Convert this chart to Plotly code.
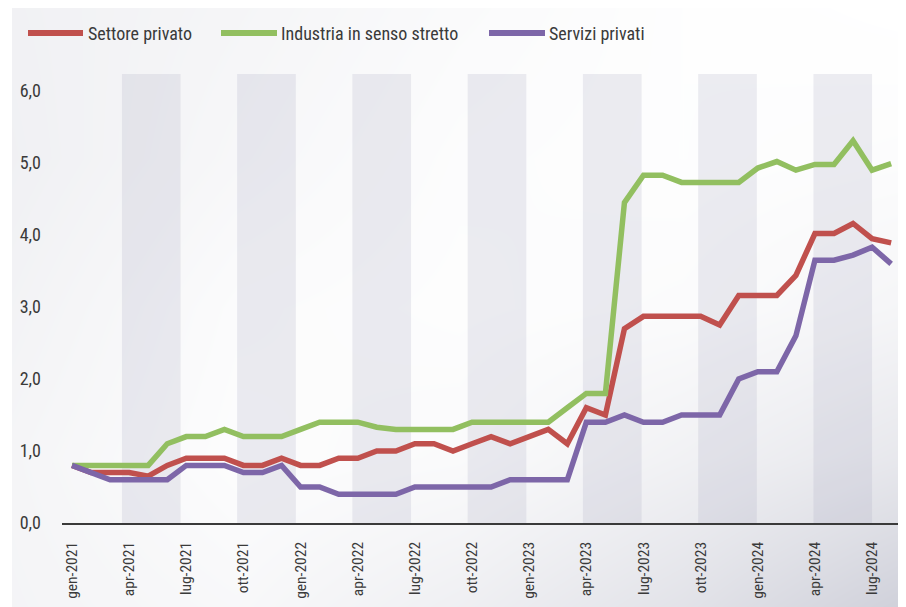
import plotly.graph_objects as go

# ---------------- data ----------------
mesi = ["gen", "feb", "mar", "apr", "mag", "giu", "lug", "ago", "set", "ott", "nov", "dic"]
categorie = [f"{m}-{a}" for a in (2021, 2022, 2023, 2024) for m in mesi][:44]

serie_nomi = ["Settore privato", "Industria in senso stretto", "Servizi privati"]
serie_colori = ["#c0504d", "#92bf60", "#7d66a8"]

settore_privato = [0.8, 0.7, 0.7, 0.7, 0.65, 0.8, 0.9, 0.9, 0.9, 0.8, 0.8, 0.9,
                   0.8, 0.8, 0.9, 0.9, 1.0, 1.0, 1.1, 1.1, 1.0, 1.1, 1.2, 1.1,
                   1.2, 1.3, 1.1, 1.6, 1.5, 2.7, 2.87, 2.87, 2.87, 2.87, 2.75, 3.16,
                   3.16, 3.16, 3.44, 4.02, 4.02, 4.16, 3.95, 3.89]
industria = [0.8, 0.8, 0.8, 0.8, 0.8, 1.1, 1.2, 1.2, 1.3, 1.2, 1.2, 1.2,
             1.3, 1.4, 1.4, 1.4, 1.33, 1.3, 1.3, 1.3, 1.3, 1.4, 1.4, 1.4,
             1.4, 1.4, 1.6, 1.8, 1.8, 4.45, 4.83, 4.83, 4.73, 4.73, 4.73, 4.73,
             4.93, 5.02, 4.90, 4.98, 4.98, 5.31, 4.90, 4.99]
servizi = [0.8, 0.7, 0.6, 0.6, 0.6, 0.6, 0.8, 0.8, 0.8, 0.7, 0.7, 0.8,
           0.5, 0.5, 0.4, 0.4, 0.4, 0.4, 0.5, 0.5, 0.5, 0.5, 0.5, 0.6,
           0.6, 0.6, 0.6, 1.4, 1.4, 1.5, 1.4, 1.4, 1.5, 1.5, 1.5, 2.0,
           2.1, 2.1, 2.6, 3.65, 3.65, 3.72, 3.83, 3.6]
serie_valori = [settore_privato, industria, servizi]

y_tick_vals = [0, 1, 2, 3, 4, 5, 6]
y_tick_text = ["0,0", "1,0", "2,0", "3,0", "4,0", "5,0", "6,0"]
x_tick_idx = list(range(0, 44, 3))

# ---------------- figure ----------------
# the page body keeps its default 8px margin, so the figure is 8px smaller
W, H = 898, 599
FONT = "Liberation Sans Narrow, Roboto Condensed, Roboto, sans-serif"
x_idx = list(range(len(categorie)))
Y_TOP = 6.236
X_RANGE = [-0.525, 43.465]

fig = go.Figure()

# background diagonal gradient (decorative)
grad = [
    [0.22, 0.14, 0.32, 0.58, 0.95],   # bottom
    [0.20, 0.05, 0.10, 0.28, 0.48],
    [0.25, 0.08, 0.04, 0.08, 0.20],
    [0.30, 0.16, 0.06, 0.03, 0.06],
    [0.28, 0.20, 0.10, 0.03, 0.00],   # top
]
gpos = [0, 0.25, 0.5, 0.75, 1]
fig.add_trace(go.Heatmap(z=grad, x=gpos, y=gpos, zsmooth="best",
                         colorscale=[[0, "#ffffff"], [1, "#cdced8"]],
                         zmin=0, zmax=1, showscale=False, hoverinfo="skip",
                         xaxis="x", yaxis="y"))

for nome, col, vals in zip(serie_nomi, serie_colori, serie_valori):
    fig.add_trace(go.Scatter(x=x_idx, y=vals, mode="lines", name=nome,
                             line=dict(color=col, width=5.5),
                             xaxis="x2", yaxis="y2", showlegend=False))

# vertical stripes
shapes = []
for k in range(7):
    x0 = 2.62 + 6.05 * k
    shapes.append(dict(type="rect", xref="x2", yref="y2", layer="below",
                       x0=x0, x1=x0 + 3.08, y0=0, y1=Y_TOP,
                       fillcolor="rgba(165,165,190,0.20)", line=dict(width=0)))

# custom legend
annotations = []
leg_x = [(20, 75, 78), (213, 269, 271), (481, 537, 539)]
leg_y = 1 - 25 / H
for (a, b, t), nome, col in zip(leg_x, serie_nomi, serie_colori):
    shapes.append(dict(type="line", xref="paper", yref="paper", layer="above",
                       x0=a / W, x1=b / W, y0=leg_y, y1=leg_y,
                       line=dict(color=col, width=6)))
    annotations.append(dict(xref="paper", yref="paper", x=t / W, y=leg_y,
                            xanchor="left", yanchor="middle", showarrow=False,
                            text=nome, font=dict(size=18, color="#3a3a3a", family=FONT)))

fig.update_layout(
    width=W, height=H,
    margin=dict(l=0, r=0, t=0, b=0, autoexpand=False),
    paper_bgcolor="#ffffff",
    plot_bgcolor="rgba(0,0,0,0)",
    showlegend=False,
    shapes=shapes,
    annotations=annotations,
    xaxis=dict(domain=[4 / W, 1], range=[0, 1], visible=False, fixedrange=True,
               automargin=False),
    yaxis=dict(domain=[0, 1], range=[0, 1], visible=False, fixedrange=True,
               automargin=False),
    xaxis2=dict(domain=[54 / W, 892 / W], range=X_RANGE, anchor="y2",
                automargin=False,
                tickmode="array", tickvals=x_tick_idx,
                ticktext=[categorie[i] for i in x_tick_idx],
                tickangle=-90, showgrid=False, zeroline=False,
                showline=True, linecolor="#3a3a3a", linewidth=1.5,
                ticks="", ticklabelstandoff=11,
                tickfont=dict(size=15.5, color="#3a3a3a", family=FONT)),
    yaxis2=dict(domain=[84 / H, 533 / H], range=[0, Y_TOP], anchor="x2",
                automargin=False,
                tickmode="array", tickvals=y_tick_vals, ticktext=y_tick_text,
                showgrid=False, zeroline=False, showline=False, ticks="",
                ticklabelstandoff=20,
                tickfont=dict(size=18, color="#3a3a3a", family=FONT)),
)

fig.write_html("out.html")
